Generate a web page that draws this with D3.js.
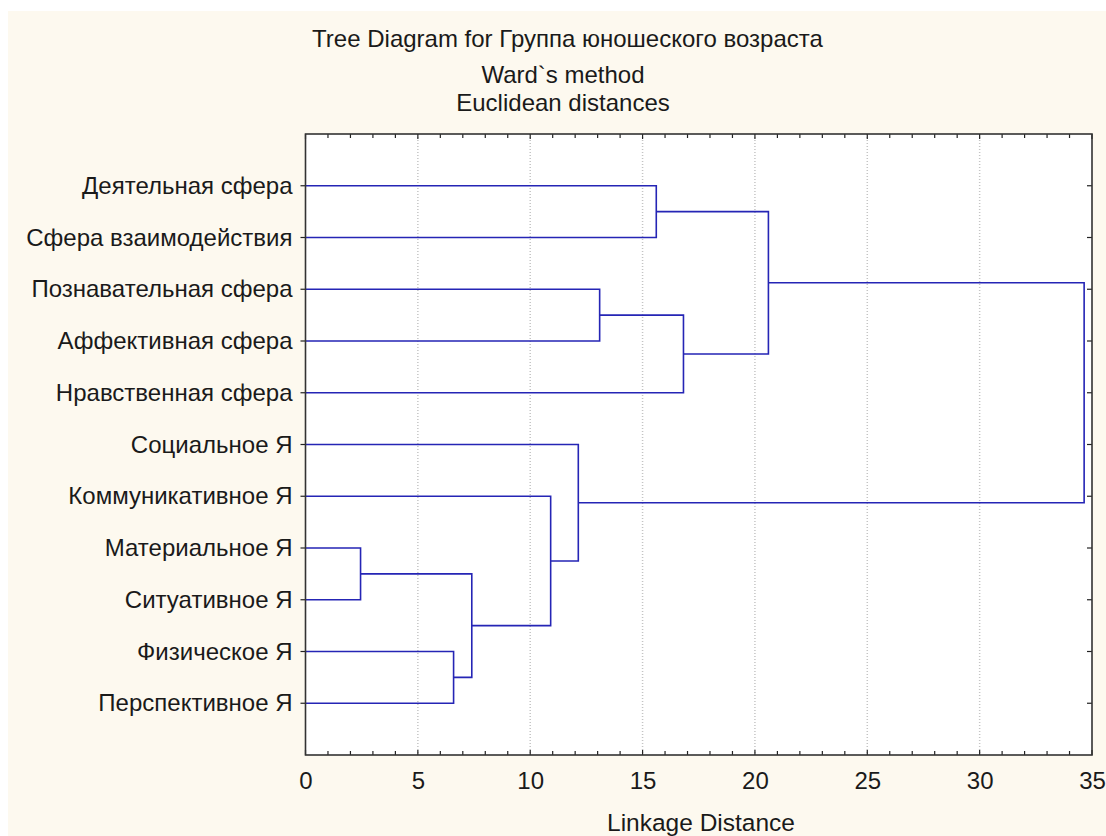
<!DOCTYPE html>
<html>
<head>
<meta charset="utf-8">
<script src="https://cdn.jsdelivr.net/npm/d3@7"></script>
<style>
  html, body { margin: 0; padding: 0; background: #ffffff; }
  svg { display: block; }
  text { font-family: "Liberation Sans", Arial, sans-serif; fill: #1a1a1a; }
</style>
</head>
<body>
<svg id="chart" width="1106" height="836"></svg>
<script>
// Variables (leaves of the tree, top to bottom)
const leaves = [
  "Деятельная сфера",
  "Сфера взаимодействия",
  "Познавательная сфера",
  "Аффективная сфера",
  "Нравственная сфера",
  "Социальное Я",
  "Коммуникативное Я",
  "Материальное Я",
  "Ситуативное Я",
  "Физическое Я",
  "Перспективное Я"
];

// Amalgamation schedule: [member A, member B, linkage distance].
// Ids 0..10 are leaves, each merge k becomes cluster id 11 + k.
const merges = [
  [7, 8, 2.45],
  [9, 10, 6.59],
  [11, 12, 7.40],
  [6, 13, 10.91],
  [5, 14, 12.14],
  [2, 3, 13.09],
  [0, 1, 15.61],
  [16, 4, 16.82],
  [17, 18, 20.60],
  [19, 15, 34.65]
];

const xTicks = [0, 5, 10, 15, 20, 25, 30, 35];
const xMinorTicks = d3.range(0, 36, 1);

const titleLines = ["Tree Diagram for Группа юношеского возраста", "Ward`s method", "Euclidean distances"];
const xTitle = "Linkage Distance";

const W = 1106, H = 836;
const plot = { left: 305.5, right: 1092, top: 134, bottom: 755 };

const svg = d3.select("#chart");

// page background (cream panel with a thin white margin at top and left)
svg.append("rect").attr("x", 0).attr("y", 0).attr("width", W).attr("height", H).attr("fill", "#ffffff");
svg.append("rect").attr("x", 8).attr("y", 11).attr("width", W - 8).attr("height", H - 11).attr("fill", "#fdf9ef");

// plot area
svg.append("rect")
  .attr("x", plot.left).attr("y", plot.top)
  .attr("width", plot.right - plot.left).attr("height", plot.bottom - plot.top)
  .attr("fill", "#ffffff");

const x = d3.scaleLinear().domain([0, 35]).range([plot.left, plot.right]);
const y = d3.scalePoint().domain(d3.range(leaves.length)).range([plot.top, plot.bottom]).padding(1);

// vertical grid lines
svg.append("g").selectAll("line")
  .data(xTicks.filter(v => v > 0 && v < 35))
  .join("line")
  .attr("x1", d => x(d)).attr("x2", d => x(d))
  .attr("y1", plot.top).attr("y2", plot.bottom)
  .attr("stroke", "#c4c4c4").attr("stroke-width", 1.5)
  .attr("stroke-dasharray", "1,2");

// cluster positions
const nodes = leaves.map((name, i) => ({ h: 0, y: y(i) }));
merges.forEach(([a, b, d]) => {
  nodes.push({ h: d, y: (nodes[a].y + nodes[b].y) / 2, a, b });
});

// dendrogram links
const linkG = svg.append("g")
  .attr("fill", "none").attr("stroke", "#2525b5").attr("stroke-width", 1.6);
merges.forEach(([a, b, d]) => {
  const A = nodes[a], B = nodes[b];
  const p = d3.path();
  p.moveTo(x(A.h), A.y);
  p.lineTo(x(d), A.y);
  p.lineTo(x(d), B.y);
  p.lineTo(x(B.h), B.y);
  linkG.append("path").attr("d", p.toString());
});

// frame ticks
const tickG = svg.append("g").attr("stroke", "#222").attr("stroke-width", 1.2);
xMinorTicks.forEach(v => {
  const len = v % 5 === 0 ? 5 : 4;
  tickG.append("line").attr("x1", x(v)).attr("x2", x(v)).attr("y1", plot.bottom).attr("y2", plot.bottom - len);
  tickG.append("line").attr("x1", x(v)).attr("x2", x(v)).attr("y1", plot.top).attr("y2", plot.top + len);
});
leaves.forEach((_, i) => {
  tickG.append("line").attr("x1", plot.left - 5).attr("x2", plot.left).attr("y1", y(i)).attr("y2", y(i));
  tickG.append("line").attr("x1", plot.right - 5).attr("x2", plot.right).attr("y1", y(i)).attr("y2", y(i));
});

// frame
svg.append("rect")
  .attr("x", plot.left).attr("y", plot.top)
  .attr("width", plot.right - plot.left).attr("height", plot.bottom - plot.top)
  .attr("fill", "none").attr("stroke", "#333").attr("stroke-width", 1.6);

// x axis labels
const xAxis = d3.axisBottom(x).tickValues(xTicks).tickSize(0).tickPadding(17).tickFormat(d3.format("d"));
const xg = svg.append("g").attr("transform", `translate(0,${plot.bottom})`).call(xAxis);
xg.select(".domain").remove();
xg.selectAll("text")
  .attr("font-size", 24)
  .attr("font-family", "Liberation Sans Narrow, Liberation Sans, Arial, sans-serif")
  .attr("fill", "#1a1a1a");

// y axis labels
const yAxis = d3.axisLeft(y).tickSize(0).tickPadding(13).tickFormat(i => leaves[i]);
const yg = svg.append("g").attr("transform", `translate(${plot.left},0)`).call(yAxis);
yg.select(".domain").remove();
yg.selectAll("text")
  .attr("font-size", 24)
  .attr("fill", "#1a1a1a")
  .attr("font-family", "Liberation Sans, Arial, sans-serif");

// titles
svg.append("text").attr("x", 567.5).attr("y", 47).attr("text-anchor", "middle").attr("font-size", 24).text(titleLines[0]);
svg.append("text").attr("x", 563).attr("y", 83).attr("text-anchor", "middle").attr("font-size", 24).text(titleLines[1]);
svg.append("text").attr("x", 563).attr("y", 111).attr("text-anchor", "middle").attr("font-size", 24).text(titleLines[2]);
svg.append("text").attr("x", 701).attr("y", 831).attr("text-anchor", "middle").attr("font-size", 24.5).text(xTitle);
</script>
</body>
</html>
